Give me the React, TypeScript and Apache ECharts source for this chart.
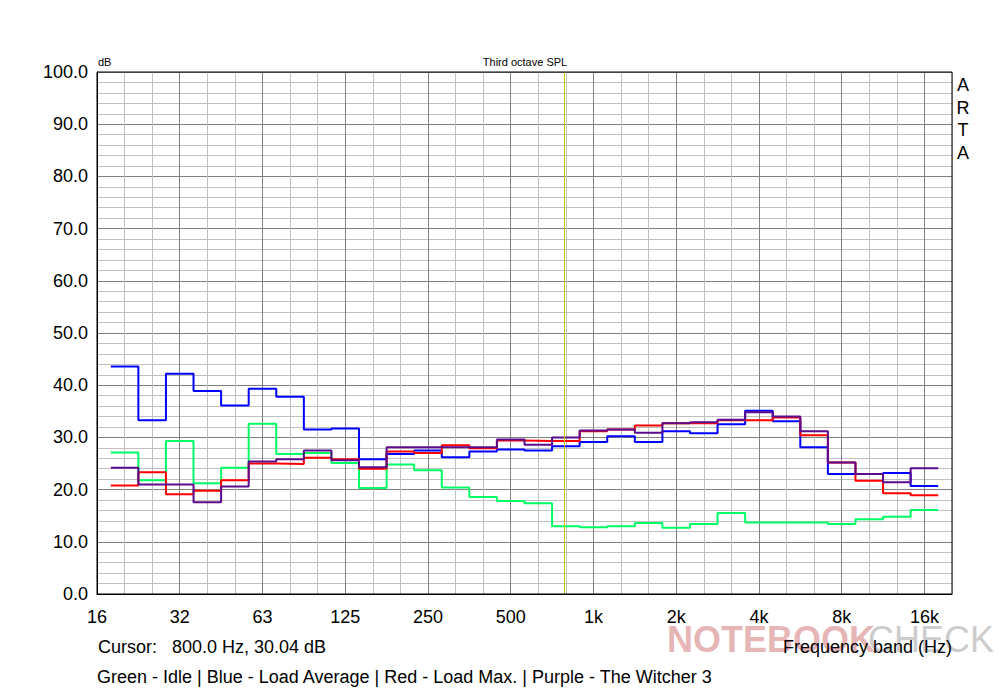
import React, { useEffect, useRef } from "react";
import * as echarts from "echarts";

// Third-octave band centres, 20 Hz … 16 kHz
const bands = ["20", "25", "31.5", "40", "50", "63", "80", "100", "125", "160", "200", "250", "315", "400", "500", "630", "800", "1k", "1.25k", "1.6k", "2k", "2.5k", "3.15k", "4k", "5k", "6.3k", "8k", "10k", "12.5k", "16k"];

// Octave tick labels (16 Hz … 16 kHz)
const octaveLabels = ["16", "32", "63", "125", "250", "500", "1k", "2k", "4k", "8k", "16k"];

const idle = [27.1, 21.8, 29.3, 21.2, 24.2, 32.6, 26.8, 27.0, 25.1, 20.3, 24.8, 23.7, 20.4, 18.6, 17.8, 17.4, 13.0, 12.8, 13.0, 13.6, 12.7, 13.4, 15.5, 13.7, 13.7, 13.7, 13.4, 14.3, 14.8, 16.1];
const loadAverage = [43.6, 33.3, 42.2, 38.9, 36.1, 39.3, 37.8, 31.5, 31.7, 25.8, 26.8, 27.5, 26.2, 27.3, 27.7, 27.5, 28.3, 29.1, 30.2, 29.1, 31.2, 30.8, 32.5, 35.1, 33.1, 28.1, 23.0, 23.0, 23.2, 20.7];
const loadMax = [20.8, 23.3, 19.1, 19.8, 21.8, 25.0, 24.9, 26.1, 25.8, 24.0, 27.3, 27.0, 28.5, 27.9, 29.4, 29.3, 29.3, 31.2, 31.5, 32.3, 32.7, 32.7, 33.3, 33.3, 33.8, 30.4, 25.2, 21.7, 19.3, 18.9];
const witcher = [24.2, 21.0, 21.0, 17.6, 20.6, 25.4, 25.8, 27.5, 25.6, 24.3, 28.1, 28.1, 28.1, 28.1, 29.6, 28.6, 30.0, 31.3, 31.5, 30.9, 32.7, 32.9, 33.4, 34.8, 34.0, 31.2, 25.2, 23.0, 21.4, 24.1];

const cursorHz = 800;

// band index i -> axis position in third-octaves above 16 Hz (centre = i + 1)
function stepData(values: number[]) {
  const pts: number[][] = [];
  values.forEach((v, i) => {
    pts.push([i + 0.5, v]);
    pts.push([i + 1.5, v]);
  });
  return pts;
}

const FONT = "'Liberation Sans', Arial, sans-serif";

export default function App() {
  const ref = useRef<HTMLDivElement>(null);
  useEffect(() => {
    if (!ref.current) return;
    const chart = echarts.init(ref.current, undefined, { renderer: "svg" });
    const gl = 97, gt = 72, gw = 855, gh = 522;
    const mk = (name: string, color: string, vals: number[]) => ({
      name,
      type: "line",
      data: stepData(vals),
      symbol: "none",
      lineStyle: { color, width: 2 },
      itemStyle: { color },
      z: 3,
    });
    chart.setOption({
      animation: false,
      backgroundColor: "#ffffff",
      grid: { left: gl, top: gt, width: gw, height: gh, containLabel: false },
      xAxis: {
        type: "value",
        min: 0,
        max: 31,
        interval: 1,
        axisLine: { show: true, lineStyle: { color: "#000", width: 1 } },
        axisTick: { show: false },
        axisLabel: {
          margin: 14,
          fontFamily: FONT,
          fontSize: 18,
          color: "#000",
          formatter: (v: number) => (v % 3 === 0 ? octaveLabels[v / 3] ?? "" : ""),
        },
        splitLine: {
          show: true,
          lineStyle: { color: ["#808080", "#c0c0c0", "#c0c0c0"], width: 1 },
        },
      },
      yAxis: {
        type: "value",
        min: 0,
        max: 100,
        interval: 2,
        axisLine: { show: true, lineStyle: { color: "#000", width: 1 } },
        axisTick: { show: false },
        axisLabel: {
          margin: 9,
          fontFamily: FONT,
          fontSize: 18,
          color: "#000",
          formatter: (v: number) => (v % 10 === 0 ? v.toFixed(1) : ""),
        },
        splitLine: {
          show: true,
          lineStyle: { color: ["#808080", "#c0c0c0", "#c0c0c0", "#c0c0c0", "#c0c0c0"], width: 1 },
        },
      },
      series: [
        {
          name: "cursor",
          type: "line",
          data: [],
          z: 2,
          markLine: {
            silent: true,
            symbol: "none",
            label: { show: false },
            lineStyle: { color: "#c8c800", width: 1, type: "solid" },
            data: [{ xAxis: 3 * Math.log2(cursorHz / 16) }],
          },
        },
        mk("Idle", "#00ff66", idle),
        mk("Load Average", "#0000ff", loadAverage),
        mk("Load Max.", "#ff0000", loadMax),
        mk("The Witcher 3", "#5c0a8c", witcher),
      ],
      graphic: [
        {
          type: "rect",
          shape: { x: gl, y: gt, width: gw, height: gh },
          style: { fill: "none", stroke: "#000", lineWidth: 1 },
          z: 10,
          silent: true,
        },
        { type: "text", x: 98, y: 56, style: { text: "dB", font: `11px ${FONT}`, fill: "#000" } },
        { type: "text", x: 525, y: 56, style: { text: "Third octave SPL", font: `11px ${FONT}`, fill: "#000", textAlign: "center" } },
        { type: "text", x: 963, y: 74, style: { text: "A\nR\nT\nA", font: `18px ${FONT}`, fill: "#000", textAlign: "center", lineHeight: 22.5 } },
        {
          type: "text",
          x: 667,
          y: 621,
          z: 0,
          style: { text: "NOTEBOOK", font: `bold 36px ${FONT}`, fill: "rgba(200,90,90,0.45)" },
        },
        {
          type: "text",
          x: 868,
          y: 621,
          z: 0,
          style: { text: "CHECK", font: `36px ${FONT}`, fill: "rgba(120,120,120,0.4)" },
        },
        { type: "text", x: 98, y: 638, z: 5, style: { text: "Cursor:   800.0 Hz, 30.04 dB", font: `18px ${FONT}`, fill: "#000" } },
        { type: "text", x: 952, y: 638, z: 5, style: { text: "Frequency band (Hz)", font: `18px ${FONT}`, fill: "#000", textAlign: "right" } },
        {
          type: "text",
          x: 97,
          y: 668,
          z: 5,
          style: {
            text: "Green - Idle | Blue - Load Average | Red - Load Max. | Purple - The Witcher 3",
            font: `18px ${FONT}`,
            fill: "#000",
          },
        },
      ],
    });
    return () => chart.dispose();
  }, []);
  return <div ref={ref} style={{ position: "fixed", left: 0, top: 0, width: 1000, height: 694 }} />;
}
